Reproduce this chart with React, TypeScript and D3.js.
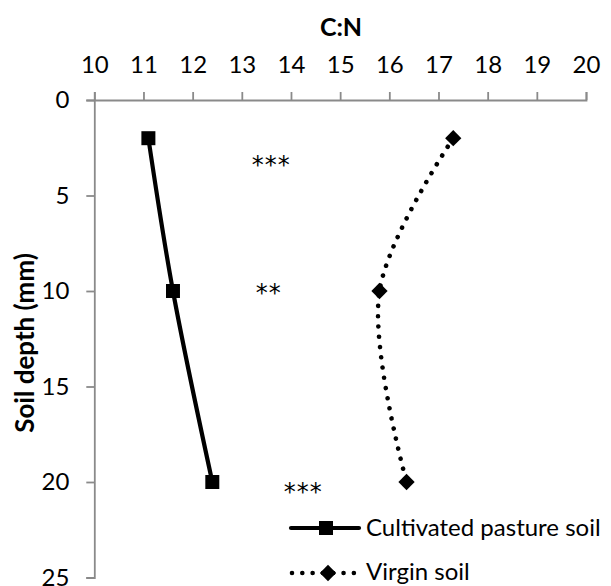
import React, { useEffect, useRef } from "react";
import * as d3 from "d3";

// soil depth (mm) of each sample
const depths = [2, 10, 20];
// C:N ratio per soil
const cultivated = [11.1, 11.6, 12.4];
const virgin = [17.3, 15.8, 16.35];
// significance marks between the two soils at each depth
const sigLabels = ["***", "**", "***"];
const sigCN = [13.6, 13.55, 14.25];
const sigDepth = [3.1, 9.8, 20.2];

const xTicks = [10, 11, 12, 13, 14, 15, 16, 17, 18, 19, 20];
const yTicks = [0, 5, 10, 15, 20, 25];

const FONT = "Lato, 'Open Sans', sans-serif";

const App = () => {
  const ref = useRef(null);

  useEffect(() => {
    const width = 611;
    const height = 586;
    const svg = d3.select(ref.current).attr("width", width).attr("height", height);
    svg.selectAll("*").remove();

    const x = d3.scaleLinear().domain([10, 20]).range([94.3, 586]);
    const y = d3.scaleLinear().domain([0, 25]).range([100, 577.5]);

    const axisColor = "#8a8a8a";

    // top x axis
    const gx = svg
      .append("g")
      .attr("transform", `translate(0,${y(0)})`)
      .call(d3.axisTop(x).tickValues(xTicks).tickSize(8).tickPadding(19).tickFormat(d3.format("d")));
    // left y axis
    const gy = svg
      .append("g")
      .attr("transform", `translate(${x(10)},0)`)
      .call(d3.axisLeft(y).tickValues(yTicks).tickSize(8).tickPadding(17).tickFormat(d3.format("d")));

    [gx, gy].forEach((g) => {
      g.select(".domain").attr("stroke", axisColor).attr("stroke-width", 1.8);
      g.selectAll(".tick line").attr("stroke", axisColor).attr("stroke-width", 1.8);
      g.selectAll(".tick text")
        .attr("fill", "#000")
        .style("font-family", FONT)
        .style("font-size", "24px");
    });

    // axis titles
    svg
      .append("text")
      .attr("x", 341)
      .attr("y", 36)
      .attr("text-anchor", "middle")
      .style("font-family", FONT)
      .style("font-weight", "bold")
      .style("font-size", "25px")
      .text("C:N");

    svg
      .append("text")
      .attr("transform", `translate(34,343) rotate(-90)`)
      .attr("text-anchor", "middle")
      .style("font-family", FONT)
      .style("font-weight", "bold")
      .style("font-size", "26px")
      .text("Soil depth (mm)");

    const line = d3
      .line()
      .x((d) => x(d[0]))
      .y((d) => y(d[1]))
      .curve(d3.curveCatmullRom.alpha(0.5));

    const cultPts = cultivated.map((v, i) => [v, depths[i]]);
    const virgPts = virgin.map((v, i) => [v, depths[i]]);

    svg
      .append("path")
      .attr("d", line(cultPts))
      .attr("fill", "none")
      .attr("stroke", "#000")
      .attr("stroke-width", 4.2);

    svg
      .append("path")
      .attr("d", line(virgPts))
      .attr("fill", "none")
      .attr("stroke", "#000")
      .attr("stroke-width", 4.6)
      .attr("stroke-linecap", "round")
      .attr("stroke-dasharray", "0.01 10.3");

    const square = d3.symbol().type(d3.symbolSquare).size(14 * 14);
    const diamond = d3.symbol().type(d3.symbolSquare).size(11.5 * 11.5);

    svg
      .selectAll(".cult")
      .data(cultPts)
      .join("path")
      .attr("d", square)
      .attr("transform", (d) => `translate(${x(d[0])},${y(d[1])})`)
      .attr("fill", "#000");

    svg
      .selectAll(".virg")
      .data(virgPts)
      .join("path")
      .attr("d", diamond)
      .attr("transform", (d) => `translate(${x(d[0])},${y(d[1])}) rotate(45)`)
      .attr("fill", "#000");

    // significance marks
    svg
      .selectAll(".sig")
      .data(sigLabels)
      .join("text")
      .attr("x", (d, i) => x(sigCN[i]))
      .attr("y", (d, i) => y(sigDepth[i]) + 14)
      .attr("text-anchor", "middle")
      .attr("letter-spacing", 1)
      .style("font-family", "'DejaVu Sans', sans-serif")
      .style("font-size", "24px")
      .text((d) => d);

    // legend
    const lg = svg.append("g");
    lg.append("line")
      .attr("x1", 291).attr("x2", 359).attr("y1", 528).attr("y2", 528)
      .attr("stroke", "#000").attr("stroke-width", 4.2).attr("stroke-linecap", "round");
    lg.append("path").attr("d", square).attr("transform", "translate(326,528)").attr("fill", "#000");
    lg.append("text")
      .attr("x", 366).attr("y", 536)
      .style("font-family", FONT).style("font-size", "24px")
      .text("Cultivated pasture soil");

    lg.append("line")
      .attr("x1", 292).attr("x2", 355).attr("y1", 573).attr("y2", 573)
      .attr("stroke", "#000").attr("stroke-width", 4.6).attr("stroke-linecap", "round")
      .attr("stroke-dasharray", "0.01 10.3");
    lg.append("path").attr("d", diamond).attr("transform", "translate(328,573) rotate(45)").attr("fill", "#000");
    lg.append("text")
      .attr("x", 366).attr("y", 580)
      .style("font-family", FONT).style("font-size", "24px")
      .text("Virgin soil");
  }, []);

  return (
    <svg ref={ref} style={{ position: "absolute", left: 0, top: 0, background: "#fff" }} />
  );
};

export default App;
